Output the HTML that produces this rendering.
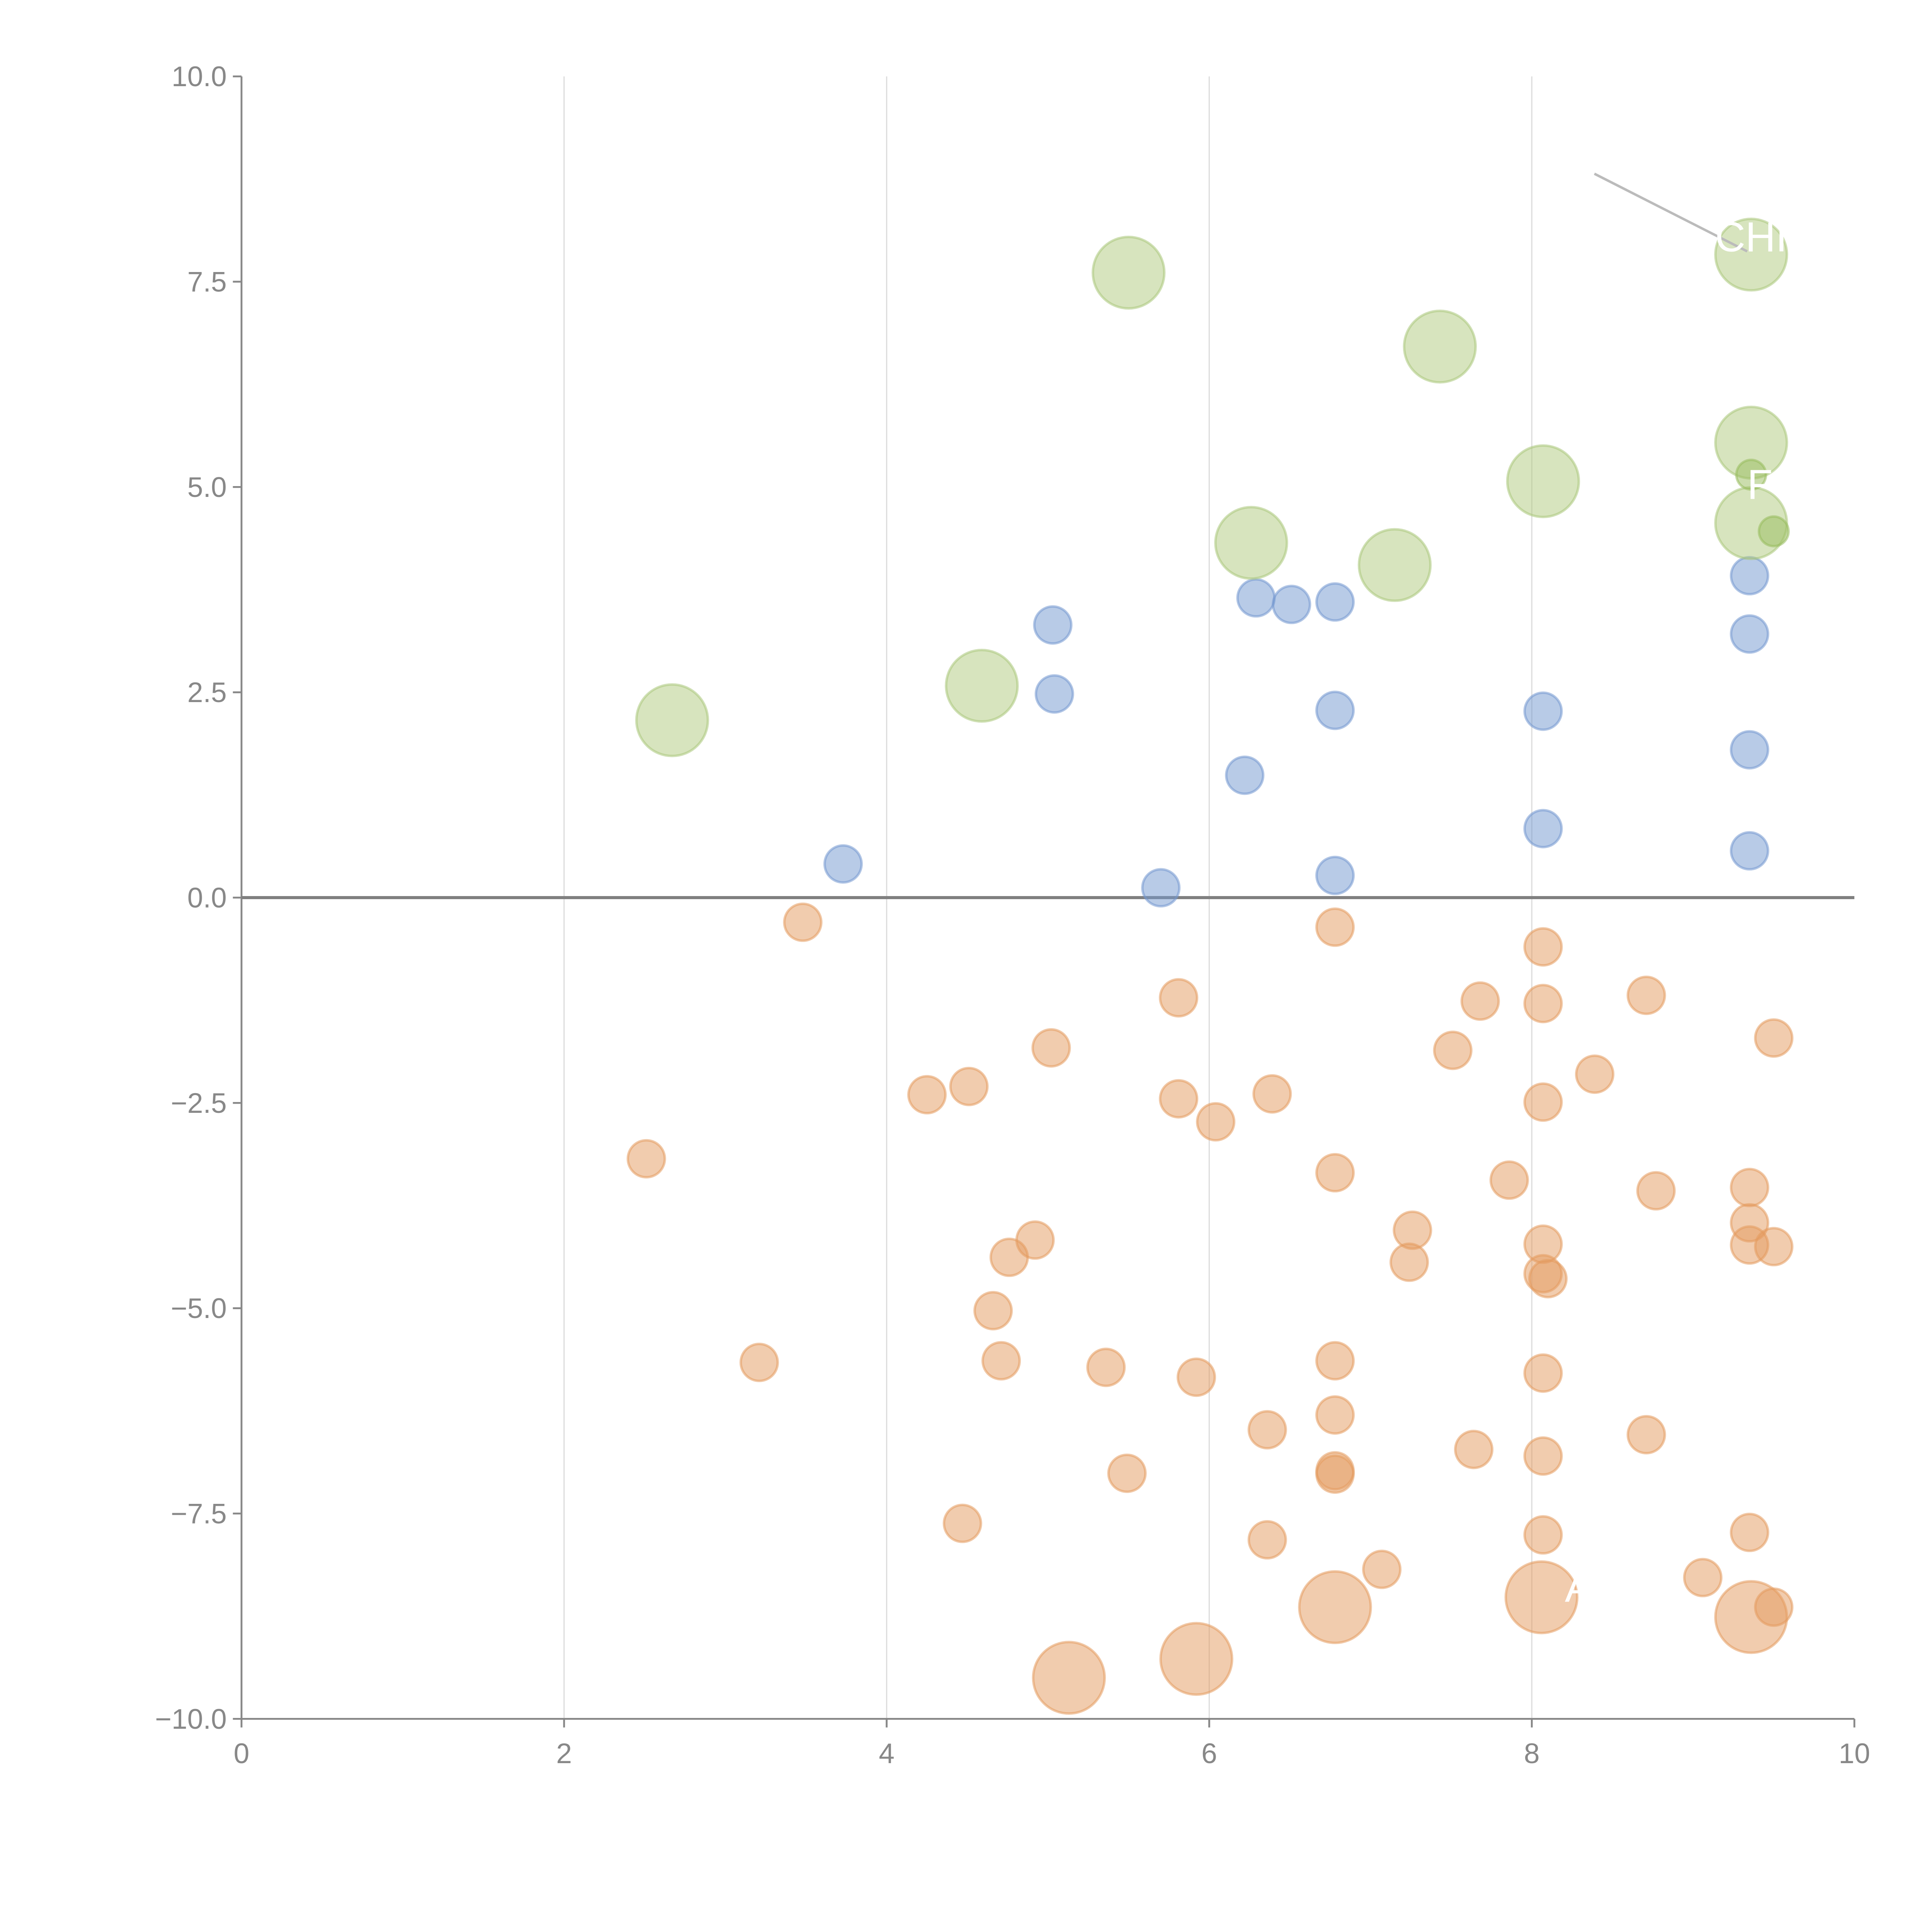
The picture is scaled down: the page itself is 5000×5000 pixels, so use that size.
<!DOCTYPE html>
<html><head><meta charset="utf-8"><style>html,body{margin:0;padding:0;background:#fff}svg{display:block}</style></head>
<body>
<svg id="chart" width="5000" height="5000" viewBox="0 0 1568 1568" xmlns="http://www.w3.org/2000/svg" font-family="'Liberation Sans', sans-serif">
<g id="grid"></g>
<g id="axes"></g>
<g id="marks"></g>
<g id="annot"></g>
</svg>
<script>
const xTicks=[0,2,4,6,8,10];
const yTicks=[10,7.5,5,2.5,0,-2.5,-5,-7.5,-10];
const yTickLabels=["10.0","7.5","5.0","2.5","0.0","\u22122.5","\u22125.0","\u22127.5","\u221210.0"];
const greenX=[2.67,4.59,5.50,6.26,7.15,7.43,8.07,9.36,9.36,9.36];
const greenY=[2.16,2.58,7.61,4.32,4.05,6.71,5.07,7.83,5.54,4.56];
const greenSmallX=[9.36,9.50];
const greenSmallY=[5.15,4.46];
const blueX=[3.73,5.03,5.04,5.70,6.22,6.29,6.51,6.78,6.78,6.78,8.07,8.07,9.35,9.35,9.35,9.35];
const blueY=[0.41,3.32,2.48,0.12,1.49,3.65,3.57,3.60,2.28,0.27,2.27,0.84,3.92,3.21,1.80,0.57];
const orangeX=[3.48,2.51,3.21,4.25,4.51,5.02,5.81,5.81,6.04,6.39,6.78,6.78,7.68,7.51,8.07,8.07,8.07,8.39,8.71,9.50,7.86,8.77,9.35,9.35,9.35,9.50,8.07,8.07,8.10,7.26,7.24,4.92,4.76,4.66,4.71,5.36,5.92,6.78,8.07,6.78,6.36,7.64,8.07,8.71,5.49,6.78,6.78,4.47,6.36,8.07,9.35,7.07,9.06,9.50];
const orangeY=[-0.30,-3.18,-5.66,-2.40,-2.30,-1.83,-1.22,-2.45,-2.73,-2.39,-0.36,-3.35,-1.26,-1.86,-0.60,-1.29,-2.49,-2.15,-1.19,-1.71,-3.44,-3.57,-3.53,-3.96,-4.23,-4.25,-4.22,-4.58,-4.64,-4.05,-4.44,-4.17,-4.38,-5.03,-5.64,-5.72,-5.84,-5.64,-5.79,-6.30,-6.48,-6.72,-6.80,-6.54,-7.01,-6.98,-7.02,-7.62,-7.82,-7.76,-7.73,-8.18,-8.28,-8.64];
const orangeBigX=[6.78,8.06,9.36,5.92,5.13];
const orangeBigY=[-8.64,-8.52,-8.76,-9.27,-9.50];

const NS="http://www.w3.org/2000/svg";
const X0=196,X1=1505,Y0=62,Y1=1395;
function sx(v){return X0+(v-0)/10*(X1-X0);}
function sy(v){return Y0+(10-v)/20*(Y1-Y0);}
function mk(tag,attrs,parent){const e=document.createElementNS(NS,tag);for(const k in attrs)e.setAttribute(k,attrs[k]);parent.appendChild(e);return e;}
const grid=document.getElementById('grid'),axes=document.getElementById('axes'),marks=document.getElementById('marks'),annot=document.getElementById('annot');

xTicks.forEach((t,i)=>{
  if(t>0&&t<10){const g=mk('line',{x1:sx(t),x2:sx(t),y1:Y0,y2:Y1,stroke:'#ddd','stroke-width':1},grid);
  
  }
  const tk=mk('line',{x1:sx(t),x2:sx(t),y1:Y1,y2:Y1+7,stroke:'#888','stroke-width':1.5},axes);
  
  
  const tx=mk('text',{x:sx(t),y:Y1+36,'text-anchor':'middle','font-size':23,fill:'#888'},axes);
  tx.textContent=String(t);
  
  
});
yTicks.forEach((t,i)=>{
  const tk=mk('line',{x1:X0-7,x2:X0,y1:sy(t),y2:sy(t),stroke:'#888','stroke-width':1.5},axes);
  
  
  const tx=mk('text',{x:X0-12,y:sy(t)+8,'text-anchor':'end','font-size':23,fill:'#888'},axes);
  tx.textContent=yTickLabels[i];
  
  
});
let a=mk('line',{x1:X0,x2:X0,y1:Y0,y2:Y1,stroke:'#888','stroke-width':1.5},axes);


a=mk('line',{x1:X0,x2:X1,y1:Y1,y2:Y1,stroke:'#888','stroke-width':1.5},axes);


a=mk('line',{x1:X0,x2:X1,y1:sy(0),y2:sy(0),stroke:'#808080','stroke-width':2.5},axes);



function series(xs,ys,r,fill,stroke,name){
  xs.forEach((x,i)=>{
    const c=mk('circle',{cx:sx(x),cy:sy(ys[i]),r:r,fill:fill,'fill-opacity':0.5,stroke:stroke,'stroke-opacity':0.55,'stroke-width':2},marks);
    
    
  });
}
series(orangeX,orangeY,15,'#e39a5e','#e39a5e','orange-bubble');
series(orangeBigX,orangeBigY,29,'#e39a5e','#e39a5e','orange-large-bubble');
series(blueX,blueY,15,'#7297d0','#7297d0','blue-bubble');
series(greenX,greenY,29,'#afca7e','#a9c67a','green-bubble');
series(greenSmallX,greenSmallY,12,'#98bc5c','#98bc5c','green-small-bubble');

let l=mk('line',{x1:1294,y1:141,x2:1418,y2:204,stroke:'#bbb','stroke-width':2},annot);


[["CHI",1392,204],["F",1418,405],["A",1270,1300]].forEach(d=>{
  const t=mk('text',{x:d[1],y:d[2],'font-size':34,fill:'#fff'},annot);
  t.textContent=d[0];
  
  
});
</script>
</body></html>
